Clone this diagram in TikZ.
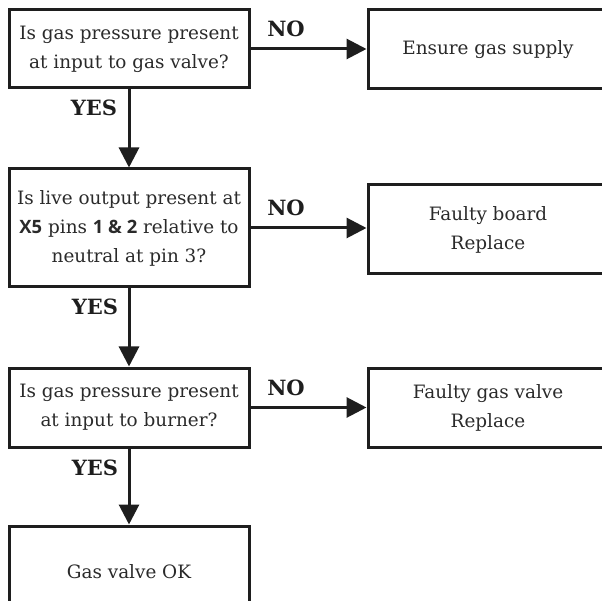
\documentclass[tikz,border=0pt]{standalone}
\usepackage{fontspec}
\setmainfont{DejaVu Serif}
\newfontfamily\sansbold{Open Sans}[BoldFont={* Bold}]
\usetikzlibrary{arrows.meta}
\definecolor{ink}{HTML}{1E1E1E}
\definecolor{txt}{HTML}{2A2A2A}
\tikzset{
  box/.style={draw=ink, line width=3pt, minimum width=240pt, inner sep=0pt,
    align=center, text=txt, font=\fontsize{18.4}{29}\selectfont},
  arr/.style={draw=ink, line width=3pt, -{Triangle[length=20pt,width=20pt]}},
  lbl/.style={text=ink, font=\fontsize{21}{24}\selectfont\bfseries, inner sep=0pt}
}
\newcommand{\sbtxt}[1]{{\sansbold\bfseries #1}}
\begin{document}
\begin{tikzpicture}[x=1pt,y=1pt]
\useasboundingbox (0,0) rectangle (602,-601);
\clip (0,0) rectangle (602,-601);
\node[box, minimum height=78pt] (b1) at (129,-49) {Is gas pressure present\\at input to gas valve?};
\node[box, minimum height=118pt] (b2) at (129,-228) {Is live output present at\\\sbtxt{X5} pins \sbtxt{1 \& 2} relative to\\neutral at pin 3?};
\node[box, minimum height=79pt] (b3) at (129,-407.5) {Is gas pressure present\\at input to burner?};
\node[box, minimum height=92pt] (b4) at (129,-572) {Gas valve OK};
\node[box, minimum height=79pt] (a) at (488,-49.5) {Ensure gas supply};
\node[box, minimum height=89pt] (b) at (488,-229.5) {Faulty board\\Replace};
\node[box, minimum height=79pt] (c) at (488,-407.5) {Faulty gas valve\\Replace};
\draw[arr] (b1.south) -- (b2.north);
\draw[arr] (b2.south) -- (b3.north);
\draw[arr] (b3.south) -- (b4.north);
\draw[arr] (b1.east) -- (b1.east -| a.west);
\draw[arr] (b2.east) -- (b2.east -| b.west);
\draw[arr] (b3.east) -- (b3.east -| c.west);
\node[lbl] (n1) at (286,-29) {NO};
\node[lbl] (n2) at (286,-208) {NO};
\node[lbl] (n3) at (286,-388) {NO};
\node[lbl] (y1) at (94,-108) {YES};
\node[lbl] (y2) at (95,-307) {YES};
\node[lbl] (y3) at (95,-468) {YES};
\end{tikzpicture}
\end{document}
